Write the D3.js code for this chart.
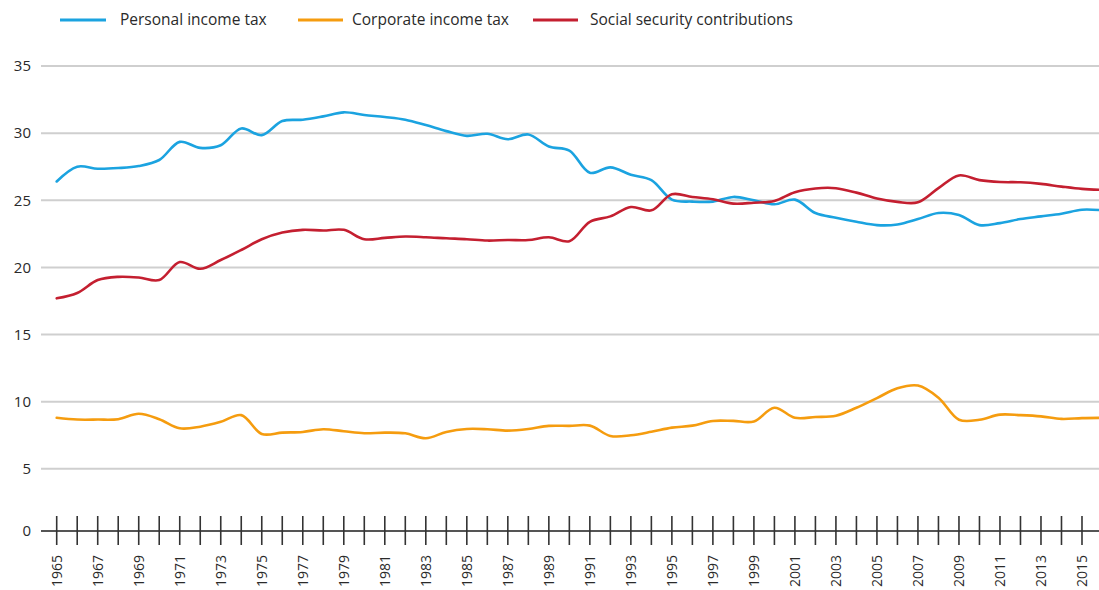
<!DOCTYPE html>
<html>
<head>
<meta charset="utf-8">
<script src="https://cdn.jsdelivr.net/npm/d3@7"></script>
<style>
  body { margin: 0; background: #fff; }
  svg { display: block; font-family: "Open Sans", sans-serif; }
</style>
</head>
<body>
<svg id="chart"></svg>
<script>
// values, 1965-2016
const years = d3.range(1965, 2017);
const personalIncomeTax = [
  26.4, 27.5, 27.35, 27.4, 27.55, 28.0, 29.35, 28.9, 29.1, 30.35,
  29.85, 30.9, 31.0, 31.25, 31.55, 31.35, 31.2, 31.0, 30.6, 30.15,
  29.8, 29.95, 29.55, 29.9, 29.0, 28.7, 27.05, 27.45, 26.9, 26.5,
  25.05, 24.9, 24.9, 25.25, 25.0, 24.7, 25.05, 24.05, 23.7, 23.4,
  23.15, 23.2, 23.6, 24.05, 23.9, 23.15, 23.3, 23.6, 23.8, 24.0,
  24.3, 24.25
];
const corporateIncomeTax = [
  8.8, 8.67, 8.67, 8.7, 9.1, 8.7, 8.02, 8.14, 8.5, 9.0,
  7.6, 7.7, 7.75, 7.95, 7.8, 7.65, 7.7, 7.65, 7.28, 7.75,
  7.97, 7.95, 7.85, 7.97, 8.2, 8.2, 8.22, 7.45, 7.5, 7.76,
  8.07, 8.22, 8.57, 8.57, 8.53, 9.55, 8.8, 8.86, 8.96, 9.55,
  10.27, 11.0, 11.2, 10.3, 8.66, 8.66, 9.04, 9.0, 8.91, 8.72,
  8.78, 8.8
];
const socialSecurity = [
  17.7, 18.1, 19.06, 19.3, 19.25, 19.06, 20.4, 19.9, 20.55, 21.3,
  22.1, 22.6, 22.8, 22.75, 22.8, 22.1, 22.2, 22.3, 22.25, 22.17,
  22.1, 22.0, 22.04, 22.04, 22.25, 21.95, 23.4, 23.8, 24.5, 24.25,
  25.45, 25.25, 25.08, 24.75, 24.82, 24.95, 25.6, 25.88, 25.9, 25.57,
  25.13, 24.88, 24.85, 25.9, 26.85, 26.5, 26.36, 26.34, 26.22, 26.02,
  25.85, 25.78
];
const seriesNames = ["Personal income tax", "Corporate income tax", "Social security contributions"];
const seriesColors = ["#1ba3e0", "#f59c0f", "#c41f30"];
const seriesValues = [personalIncomeTax, corporateIncomeTax, socialSecurity];
const yTicks = [5, 10, 15, 20, 25, 30, 35];
const labelYears = d3.range(1965, 2016, 2);

const width = 1099, height = 590;
const svg = d3.select("#chart").attr("width", width).attr("height", height);

const x = d3.scaleLinear().domain([1965, 2016]).range([56.7, 1102.5]);
const y = d3.scaleLinear().domain([0, 35]).range([536, 66]);
const gridLeft = 41;
const axisY = y(0) - 5;

// horizontal gridlines
svg.append("g")
  .selectAll("line")
  .data(yTicks)
  .join("line")
  .attr("x1", gridLeft)
  .attr("x2", width)
  .attr("y1", d => y(d))
  .attr("y2", d => y(d))
  .attr("stroke", "#cfcfcf")
  .attr("stroke-width", 2);

// y labels
svg.append("g")
  .selectAll("text")
  .data([0].concat(yTicks))
  .join("text")
  .attr("x", 31)
  .attr("y", d => d === 0 ? axisY : y(d))
  .attr("dy", "0.35em")
  .attr("text-anchor", "end")
  .attr("fill", "#2a2a2a")
  .attr("font-size", 15)
  .text(d => d);

// x axis
const xAxis = svg.append("g").attr("transform", "translate(0," + axisY + ")");
xAxis.append("line")
  .attr("x1", gridLeft).attr("x2", width)
  .attr("stroke", "#555").attr("stroke-width", 2);
xAxis.selectAll("line.tick")
  .data(years)
  .join("line")
  .attr("class", "tick")
  .attr("x1", d => x(d)).attr("x2", d => x(d))
  .attr("y1", -15).attr("y2", 14)
  .attr("stroke", "#333").attr("stroke-width", 1.6);
xAxis.selectAll("text")
  .data(labelYears)
  .join("text")
  .attr("transform", d => "translate(" + (x(d) + 5) + ",24) rotate(-90)")
  .attr("text-anchor", "end")
  .attr("fill", "#2a2a2a")
  .attr("font-size", 14)
  .text(d => d);

// lines
const line = d3.line()
  .x((d, i) => x(years[i]))
  .y(d => y(d))
  .curve(d3.curveCatmullRom.alpha(0.5));

svg.append("g")
  .selectAll("path")
  .data(seriesValues)
  .join("path")
  .attr("fill", "none")
  .attr("stroke", (d, i) => seriesColors[i])
  .attr("stroke-width", 2.6)
  .attr("stroke-linejoin", "round")
  .attr("stroke-linecap", "round")
  .attr("d", line);

// legend
const legendLine = [[60, 106], [298, 343], [533, 578]];
const legendText = [120, 352, 590];
const legend = svg.append("g")
  .selectAll("g")
  .data(seriesNames)
  .join("g")
  .attr("transform", "translate(0,20)");
legend.append("line")
  .attr("x1", (d, i) => legendLine[i][0])
  .attr("x2", (d, i) => legendLine[i][1])
  .attr("stroke", (d, i) => seriesColors[i])
  .attr("stroke-width", 3);
legend.append("text")
  .attr("x", (d, i) => legendText[i])
  .attr("dy", "0.35em")
  .attr("fill", "#2a2a2a")
  .attr("font-size", 15.5)
  .text(d => d);
</script>
</body>
</html>
